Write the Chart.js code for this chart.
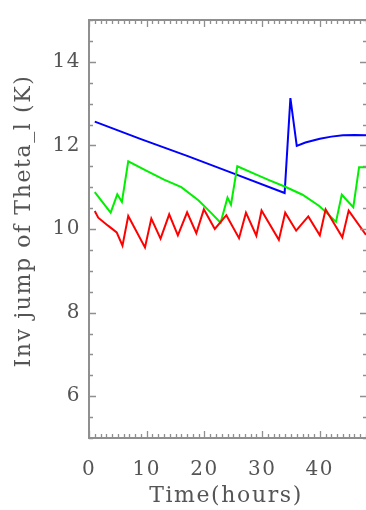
<!DOCTYPE html>
<html>
<head>
<meta charset="utf-8">
<script src="https://cdn.jsdelivr.net/npm/chart.js@4.4.1/dist/chart.umd.min.js"></script>
<style>
  html, body { margin: 0; padding: 0; background: #fff; }
  canvas { display: block; }
</style>
</head>
<body>
<canvas id="chart" width="366" height="510"></canvas>
<script>
// Axis ticks and titles
const xTickValues = [0, 10, 20, 30, 40];
const yTickValues = [6, 8, 10, 12, 14];
const xTitle = 'Time(hours)';
const yTitle = 'Inv jump of Theta_l (K)';

// Red run
const redTime  = [1, 1.6, 3.3, 4.8, 5.8, 6.8, 9.7, 10.8, 12.4, 13.9, 15.4, 17.0, 18.6, 19.9, 21.8, 23.8, 26.0, 27.2, 29.0, 29.9, 32.9, 34.0, 35.9, 38.0, 40.0, 41.0, 43.9, 45.0, 48.0];
const redTheta = [10.43, 10.27, 10.08, 9.92, 9.60, 10.31, 9.56, 10.25, 9.77, 10.35, 9.85, 10.40, 9.90, 10.47, 10.00, 10.33, 9.78, 10.39, 9.84, 10.44, 9.74, 10.39, 9.96, 10.30, 9.85, 10.47, 9.80, 10.44, 9.86];

// Green run
const greenTime  = [1, 3.75, 4.9, 5.7, 6.8, 10.0, 13.0, 16.0, 19.0, 21.2, 22.8, 24.0, 24.6, 25.7, 29.0, 31.2, 34.0, 37.0, 39.9, 41.3, 42.8, 43.8, 45.8, 46.8, 48.0];
const greenTheta = [10.88, 10.39, 10.83, 10.65, 11.62, 11.39, 11.18, 11.00, 10.68, 10.38, 10.15, 10.75, 10.58, 11.50, 11.30, 11.17, 11.01, 10.82, 10.55, 10.37, 10.17, 10.82, 10.52, 11.48, 11.48];

// Blue run
const blueTime  = [1, 9.0, 17.0, 25.0, 33.9, 34.9, 36.0, 37.5, 40.0, 42.0, 44.0, 46.0, 48.0];
const blueTheta = [12.57, 12.15, 11.75, 11.33, 10.86, 13.13, 11.99, 12.07, 12.16, 12.21, 12.24, 12.25, 12.24];

const toPoints = (xs, ys) => xs.map((x, i) => ({ x, y: ys[i] }));

const FRAME = '#8f8f8f';
const TEXT = '#555555';
const SERIF = '"DejaVu Serif", "Liberation Serif", serif';

// Box frame with inward ticks on all four sides
const framePlugin = {
  id: 'frame',
  beforeDraw(chart) {
    chart.ctx.letterSpacing = '1.5px';
  },
  afterDraw(chart) {
    const { ctx, chartArea: a, scales: { x, y } } = chart;
    const L = a.left, R = a.right + 1, T = a.top, B = a.bottom;
    ctx.save();
    ctx.strokeStyle = FRAME;
    ctx.lineWidth = 2;
    ctx.beginPath();
    ctx.moveTo(L, T); ctx.lineTo(R, T); ctx.lineTo(R, B); ctx.lineTo(L, B); ctx.closePath();
    ctx.stroke();
    ctx.lineWidth = 1.3;
    ctx.beginPath();
    for (let h = 0; h <= 48; h++) {
      const px = Math.round(x.getPixelForValue(h)) + 0.5;
      const len = h % 10 === 0 ? 7 : 4;
      ctx.moveTo(px, B); ctx.lineTo(px, B - len);
      ctx.moveTo(px, T); ctx.lineTo(px, T + len);
    }
    for (let k = 0; k <= 20; k++) {
      const v = 5 + k * 0.5;
      const py = Math.round(y.getPixelForValue(v)) + 0.5;
      const len = (v % 2 === 0) ? 7 : 4;
      ctx.moveTo(L, py); ctx.lineTo(L + len, py);
      ctx.moveTo(R, py); ctx.lineTo(R - len, py);
    }
    ctx.stroke();

    // axis titles
    ctx.fillStyle = TEXT;
    ctx.font = '22px ' + SERIF;
    ctx.letterSpacing = '1.6px';
    ctx.textAlign = 'center';
    ctx.textBaseline = 'alphabetic';
    ctx.fillText(xTitle, 226, 502);
    ctx.translate(30, 221);
    ctx.rotate(-Math.PI / 2);
    ctx.fillText(yTitle, 0, 0);
    ctx.restore();
  }
};

new Chart(document.getElementById('chart'), {
  type: 'line',
  data: {
    datasets: [
      { data: toPoints(redTime, redTheta), borderColor: '#ff0000' },
      { data: toPoints(greenTime, greenTheta), borderColor: '#00f000' },
      { data: toPoints(blueTime, blueTheta), borderColor: '#0000ff' }
    ].map(d => Object.assign(d, { borderWidth: 2, pointRadius: 0, tension: 0, fill: false }))
  },
  options: {
    responsive: false,
    animation: false,
    devicePixelRatio: 1,
    layout: { padding: { top: 11, right: 0, bottom: 0, left: 0 } },
    plugins: { legend: { display: false }, tooltip: { enabled: false } },
    scales: {
      x: {
        type: 'linear',
        min: 0,
        max: 48,
        grid: { display: false, drawTicks: false },
        border: { display: false },
        afterBuildTicks: s => { s.ticks = xTickValues.map(v => ({ value: v })); },
        afterFit: s => { s.height = 72; },
        ticks: { font: { family: SERIF, size: 20 }, color: TEXT, padding: 20, maxRotation: 0, autoSkip: false }
      },
      y: {
        type: 'linear',
        min: 5,
        max: 15,
        grid: { display: false, drawTicks: false },
        border: { display: false },
        afterBuildTicks: s => { s.ticks = yTickValues.map(v => ({ value: v })); },
        afterFit: s => { s.width = 89; },
        ticks: { font: { family: SERIF, size: 20 }, color: TEXT, padding: 8, autoSkip: false }
      }
    }
  },
  plugins: [framePlugin]
});
</script>
</body>
</html>
